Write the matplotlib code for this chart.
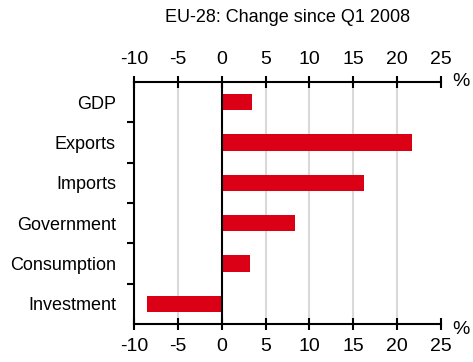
import matplotlib
matplotlib.use("Agg")
import matplotlib.pyplot as plt
import numpy as np
from matplotlib import font_manager

categories = ["GDP", "Exports", "Imports", "Government", "Consumption", "Investment"]
values = [3.4, 21.7, 16.2, 8.4, 3.2, -8.5]
xticks = [-10, -5, 0, 5, 10, 15, 20, 25]
title = "EU-28: Change since Q1 2008"

names = {f.name for f in font_manager.fontManager.ttflist}
fam = "Liberation Sans Narrow" if "Liberation Sans Narrow" in names else "Liberation Sans"
plt.rcParams["font.family"] = [fam, "DejaVu Sans"]

fig = plt.figure(figsize=(4.73, 3.62), dpi=100)
ax = fig.add_axes([134/473, 1-324/362, (441-134)/473, (324-82)/362])

y = np.arange(len(categories))
ax.barh(y, values, height=0.4, color="#DC0016", zorder=3)
ax.set_ylim(len(categories)-0.5, -0.5)
ax.set_xlim(-10, 25)

for xv in xticks:
    if xv not in (-10, 0, 25):
        ax.axvline(xv, color="#D9D9D9", lw=1.5, zorder=1)
ax.axvline(0, color="black", lw=1.5, zorder=4)

ax.set_xticks(xticks)
ax.set_xticklabels([str(v) for v in xticks])
ax.tick_params(axis="x", which="both", top=True, bottom=True, labeltop=True, labelbottom=True,
               direction="inout", length=8, width=1.5, labelsize=14, pad=6)
ax.set_yticks(y)
ax.set_yticklabels(categories)
ax.set_yticks(np.arange(len(categories)-1)+0.5, minor=True)
ax.tick_params(axis="y", which="major", length=0, labelsize=13, pad=13)
ax.tick_params(axis="y", which="minor", length=5, width=1.5, direction="out")

for s in ["top", "bottom", "left"]:
    ax.spines[s].set_linewidth(1.5)
ax.spines["right"].set_visible(False)

fig.text(1-12/473, 1-82/362, "%", fontsize=14, ha="center", va="center")
fig.text(1-12/473, 1-330/362, "%", fontsize=14, ha="center", va="center")
fig.text(288/473, 1-18/362, title, fontsize=13, ha="center", va="center")

fig.savefig("out.png", dpi=100)
